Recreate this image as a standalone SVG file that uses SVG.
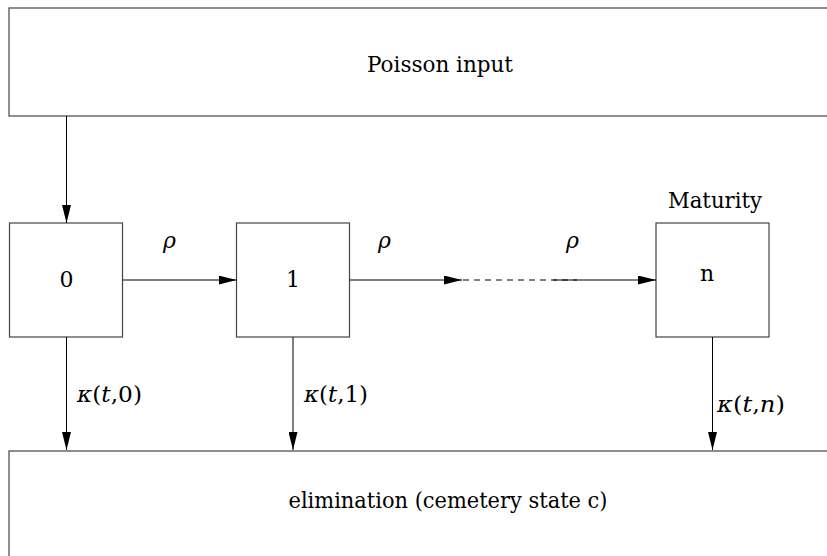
<svg xmlns="http://www.w3.org/2000/svg" width="827" height="556" viewBox="0 0 827 556">
<style>
.box{fill:#fff;stroke:#444;stroke-width:1.2}
.lbl{font-family:'DejaVu Serif','Liberation Serif',serif;font-size:22px;fill:#000}
.c{text-anchor:middle}
.it{font-style:italic}
.con{stroke:#000;stroke-width:1;fill:none}
.dash{stroke-dasharray:6 5}
</style>
<defs>
<marker id="ah" markerUnits="userSpaceOnUse" markerWidth="18" markerHeight="9" refX="18" refY="4.5" orient="auto">
<path d="M0,0 L18,4.5 L0,9 Z" fill="#000"/>
</marker>
</defs>
<rect width="827" height="556" fill="#fff"/>
<g id="poisson">
<rect class="box" x="9" y="8" width="900" height="108"/>
<text class="lbl c" x="440" y="72" textLength="146" lengthAdjust="spacingAndGlyphs">Poisson input</text>
</g>
<g id="state0">
<rect class="box" x="9.5" y="223" width="113" height="114"/>
<text class="lbl c" x="66.5" y="287">0</text>
</g>
<g id="state1">
<rect class="box" x="236.5" y="223" width="113" height="114"/>
<text class="lbl c" x="293" y="287">1</text>
</g>
<g id="staten">
<rect class="box" x="656" y="223" width="113" height="114"/>
<text class="lbl c" x="707" y="281">n</text>
<text class="lbl c" x="715" y="208" textLength="94" lengthAdjust="spacingAndGlyphs">Maturity</text>
</g>
<g id="cemetery">
<rect class="box" x="9" y="451" width="900" height="200"/>
<text class="lbl c" x="448" y="508" textLength="319" lengthAdjust="spacingAndGlyphs">elimination (cemetery state c)</text>
</g>
<g id="connectors">
<line class="con" x1="66.5" y1="116" x2="66.5" y2="223" marker-end="url(#ah)"/>
<line class="con" x1="123" y1="280" x2="236.5" y2="280" marker-end="url(#ah)"/>
<line class="con" x1="350" y1="280" x2="462" y2="280" marker-end="url(#ah)"/>
<line class="con dash" x1="463" y1="280" x2="577" y2="280"/>
<line class="con" x1="553" y1="280" x2="656" y2="280" marker-end="url(#ah)"/>
<line class="con" x1="66.5" y1="337" x2="66.5" y2="450" marker-end="url(#ah)"/>
<line class="con" x1="293" y1="337" x2="293" y2="450" marker-end="url(#ah)"/>
<line class="con" x1="712.5" y1="337" x2="712.5" y2="450" marker-end="url(#ah)"/>
<text class="lbl it" x="163" y="248">ρ</text>
<text class="lbl it" x="378" y="248">ρ</text>
<text class="lbl it" x="566" y="248">ρ</text>
<text class="lbl" x="77" y="402" textLength="65" lengthAdjust="spacingAndGlyphs"><tspan class="it">κ</tspan>(<tspan class="it">t</tspan>,0)</text>
<text class="lbl" x="304" y="402" textLength="64" lengthAdjust="spacingAndGlyphs"><tspan class="it">κ</tspan>(<tspan class="it">t</tspan>,1)</text>
<text class="lbl" x="717" y="412" textLength="68" lengthAdjust="spacingAndGlyphs"><tspan class="it">κ</tspan>(<tspan class="it">t</tspan>,<tspan class="it">n</tspan>)</text>
</g>
</svg>
